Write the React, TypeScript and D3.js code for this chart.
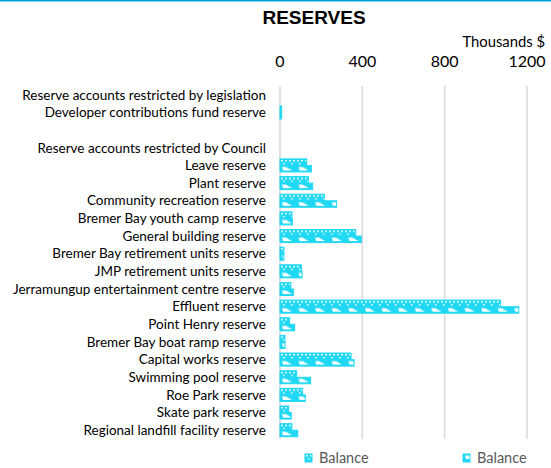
import React from "react";
import * as d3 from "d3";

const categories = [
  "Reserve accounts restricted by legislation",
  "Developer contributions fund reserve",
  " ",
  "Reserve accounts restricted by Council",
  "Leave reserve",
  "Plant reserve",
  "Community recreation reserve",
  "Bremer Bay youth camp reserve",
  "General building reserve",
  "Bremer Bay retirement units reserve",
  "JMP retirement units reserve",
  "Jerramungup entertainment centre reserve",
  "Effluent reserve",
  "Point Henry reserve",
  "Bremer Bay boat ramp reserve",
  "Capital works reserve",
  "Swimming pool reserve",
  "Roe Park reserve",
  "Skate park reserve",
  "Regional landfill facility reserve",
];

const balance1: (number | null)[] = [
  null, 8, null, null, 130, 138, 215, 58, 368, 19, 104, 53, 1072, 47, 24, 345, 81, 110, 42, 58,
];
const balance2: (number | null)[] = [
  null, 8, null, null, 152, 159, 275, 60, 395, 19, 107, 65, 1160, 71, 24, 360, 149, 123, 55, 86,
];

const seriesNames = ["Balance", "Balance"];
const xTicks = [0, 400, 800, 1200];

const W = 551;
const H = 468;
const CYAN = "#20d8f4";
const FONT = "Lato, 'Open Sans', sans-serif";

export default function App() {
  const x = d3.scaleLinear().domain([0, 1200]).range([280, 527]);
  const y = d3.scaleBand<string>().domain(categories.map((c, i) => i + "")).range([86, 439]).paddingInner(0.26).paddingOuter(0.13);
  const sub = d3.scaleBand<string>().domain(["0", "1"]).range([0, y.bandwidth()]).paddingInner(0.02);
  const series = [balance1, balance2];

  return (
    <svg width={W} height={H} style={{ position: "absolute", left: 0, top: 0, background: "#fff" }} fontFamily={FONT}>
      <defs>
        <pattern id="p0" patternUnits="userSpaceOnUse" width={8} height={7}>
          <rect width={8} height={7} fill={CYAN} />
          <rect x={1} y={1} width={1.8} height={1.5} fill="#fff" />
          <rect x={5} y={1} width={1.8} height={1.5} fill="#fff" />
          <rect x={3} y={4} width={1.5} height={1.5} fill="#fff" />
        </pattern>
        <pattern id="p1" patternUnits="userSpaceOnUse" width={16.6} height={7}>
          <rect width={16.6} height={7} fill={CYAN} />
          <polygon points="2,1.5 6,1.5 12,5 3,5" fill="#fff" />
        </pattern>
      </defs>
      <rect x={0} y={0} width={W} height={1.5} fill="#00a3e0" />
      <text x={314} y={24} textAnchor="middle" fontFamily="'Liberation Sans', Arial, sans-serif" fontWeight="bold" fontSize={19} fill="#000">
        RESERVES
      </text>
      <text x={545} y={47} textAnchor="end" fontSize={14.8} fill="#000">
        Thousands $
      </text>
      {xTicks.map((t) => (
        <g key={t}>
          <line x1={x(t)} x2={x(t)} y1={86} y2={439} stroke="#d9d9d9" strokeWidth={1.5} />
          <text x={x(t)} y={67} textAnchor="middle" fontSize={16} fill="#000">
            {t}
          </text>
        </g>
      ))}
      {categories.map((c, i) => (
        <text key={i} x={266} y={(y(i + "") as number) + y.bandwidth() / 2} dy="0.35em" textAnchor="end" fontSize={13.5} fill="#000">
          {c}
        </text>
      ))}
      {series.map((vals, s) =>
        vals.map((v, i) =>
          v == null ? null : (
            <g key={s + "-" + i} transform={`translate(${x(0)},${(y(i + "") as number) + (sub(s + "") as number)})`}>
              <rect x={0} y={0} width={x(v) - x(0)} height={sub.bandwidth()} fill={`url(#p${s})`} stroke={CYAN} strokeWidth={1} />
            </g>
          )
        )
      )}
      {seriesNames.map((n, s) => {
        const lx = s === 0 ? 305 : 463;
        return (
          <g key={s}>
            <g transform={`translate(${lx},454)`}>
              <rect x={0} y={0} width={7} height={8} fill={`url(#p${s})`} stroke={CYAN} strokeWidth={1} />
            </g>
            <text x={lx + 14} y={463} fontSize={14.5} fill="#595959">
              {n}
            </text>
          </g>
        );
      })}
    </svg>
  );
}
